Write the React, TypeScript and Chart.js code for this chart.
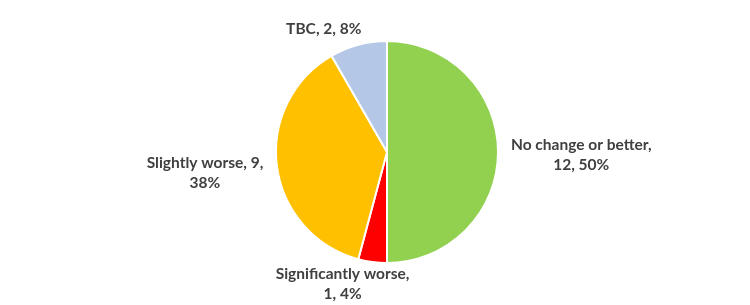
import React, { useEffect, useRef } from "react";
import { Chart, registerables } from "chart.js";

Chart.register(...registerables);

const categories = ["No change or better", "Significantly worse", "Slightly worse", "TBC"];
const values = [12, 1, 9, 2];
const percents = ["50%", "4%", "38%", "8%"];
const colors = ["#92D050", "#FF0000", "#FFC000", "#B4C7E7"];
// label lines as Excel wrapped them
const labelLines = [
  ["No change or better,", "12, 50%"],
  ["Significantly worse,", "1, 4%"],
  ["Slightly worse, 9,", "38%"],
  ["TBC, 2, 8%"],
];
// label block centre relative to pie centre, in units of radius
const labelOffsets = [
  [1.75, 0.03],
  [-0.4, 1.19],
  [-1.64, 0.19],
  [-0.57, -1.11],
];

const FONT = "bold 15.5px Lato";

const labelPlugin = {
  id: "outLabels",
  afterDatasetsDraw(chart: any) {
    const ctx = chart.ctx;
    const meta = chart.getDatasetMeta(0);
    ctx.save();
    ctx.font = FONT;
    ctx.fillStyle = "#404040";
    ctx.textAlign = "center";
    ctx.textBaseline = "middle";
    const lh = 20;
    meta.data.forEach((arc: any, i: number) => {
      const { x, y, outerRadius } = arc.getProps(["x", "y", "outerRadius"], true);
      const cx = x + labelOffsets[i][0] * outerRadius;
      const cy = y + labelOffsets[i][1] * outerRadius;
      const lines = labelLines[i];
      const top = cy - ((lines.length - 1) * lh) / 2;
      lines.forEach((t, j) => ctx.fillText(t, cx, top + j * lh));
    });
    ctx.restore();
  },
};

export default function App() {
  const ref = useRef<HTMLCanvasElement>(null);
  useEffect(() => {
    const chart = new Chart(ref.current!, {
      type: "pie",
      data: {
        labels: categories,
        datasets: [
          {
            data: values,
            backgroundColor: colors,
            borderColor: "#FFFFFF",
            borderWidth: 2,
          },
        ],
      },
      options: {
        animation: false,
        responsive: false,
        layout: { padding: { left: 24, right: 0, top: 40, bottom: 41 } },
        plugins: {
          legend: { display: false },
          tooltip: { enabled: false },
        },
      },
      plugins: [labelPlugin],
    });
    return () => chart.destroy();
  }, []);
  return (
    <div style={{ position: "fixed", left: 0, top: 0, width: 750, height: 305, background: "#fff" }}>
      <canvas ref={ref} width={750} height={305} />
    </div>
  );
}
